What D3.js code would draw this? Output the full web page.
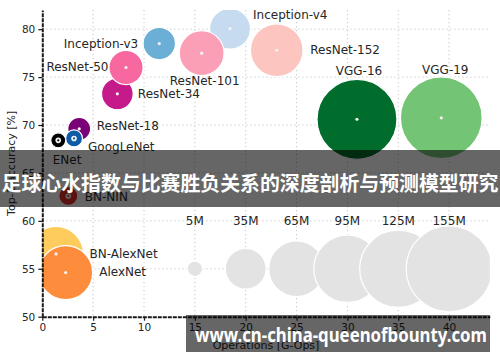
<!DOCTYPE html>
<html><head><meta charset="utf-8">
<script src="https://cdn.jsdelivr.net/npm/d3@7"></script>
<style>body{margin:0;background:#fff}</style>
</head><body>
<svg id="c" width="500" height="362"></svg>
<script>
// ---- data ----
const networks   = ["Inception-v4","ResNet-152","ResNet-101","Inception-v3","ResNet-34","ResNet-50","ResNet-18","GoogLeNet","ENet","BN-NIN","BN-AlexNet","AlexNet","VGG-16","VGG-19"];
const operations = [18.46, 23.05, 15.67, 11.5, 7.38, 8.23, 3.63, 3.12, 1.57, 2.56, 1.35, 2.3, 30.94, 39.23];
const accuracy   = [80.05, 77.8, 77.5, 78.5, 73.25, 76.0, 69.6, 68.6, 68.4, 62.6, 56.55, 54.6, 70.6, 70.75];
const parameters = [35, 58, 42, 22, 21, 24.5, 11, 6, 4.7, 7.6, 63, 61, 134, 140];
const netColors  = ["#c6dbef","#fcc5c0","#fa9fb5","#6baed6","#c51b8a","#f768a1","#7a0177","#0d5aa7","#000000","#de2d26","#fecc5c","#fd8d3c","#006d2c","#74c476"];
const refParams  = [5, 35, 65, 95, 125, 155];
const refLabels  = ["5M","35M","65M","95M","125M","155M"];
const refOps     = [15, 20, 25, 30, 35, 40];
const refAccuracy = 55, refLabelAccuracy = 60;
const xTicks = [0,5,10,15,20,25,30,35,40];
const yTicks = [50,55,60,65,70,75,80];
const xTitle = "Operations [G-Ops]";
const yTitle = "Top-1 accuracy [%]";
const bannerText = "足球心水指数与比赛胜负关系的深度剖析与预测模型研究";
const watermark = "www.cn-china-queenofbounty.com";

// ---- layout (label placement relative to bubble centre, px) ----
const labelLayout = {
  "Inception-v4": {dx: 23, dy: -13.5, a: "start"},
  "Inception-v3": {dx: -21, dy: 0, a: "end"},
  "ResNet-50":    {dx: -17.5, dy: -0.5, a: "end"},
  "ResNet-101":   {dx: 3, dy: 27.5, a: "middle"},
  "ResNet-34":    {dx: 20.5, dy: -0.5, a: "start"},
  "ResNet-18":    {dx: 17.5, dy: -3.5, a: "start"},
  "GoogLeNet":    {dx: 14, dy: 8, a: "start"},
  "ENet":         {dx: -5.5, dy: 19.5, a: "start"},
  "BN-NIN":       {dx: 16.5, dy: 1, a: "start"},
  "ResNet-152":   {dx: 33.5, dy: 0, a: "start"},
  "VGG-16":       {dx: 2, dy: -48.5, a: "middle"},
  "VGG-19":       {dx: 4, dy: -48.5, a: "middle"},
  "BN-AlexNet":   {dx: 33.5, dy: -0.5, a: "start"},
  "AlexNet":      {dx: 33.5, dy: -0.5, a: "start"}
};

const svg = d3.select("#c");
const L = 42.3, R = 489.8, T = 10, B = 316.7;
const x = d3.scaleLinear().domain([0, 44]).range([L, R]);
const y = d3.scaleLinear().domain([50, 82]).range([B, T]);
const r = d3.scaleSqrt().domain([0, 155]).range([0, 43]);
const font = "'DejaVu Sans', Verdana, sans-serif";
const txt = "#262626";

svg.append("defs").append("clipPath").attr("id","plot")
  .append("rect").attr("x", L).attr("y", T).attr("width", R - L).attr("height", B - T);

// grid
const grid = svg.append("g").attr("stroke", "#c4c4c4").attr("stroke-width", 1).attr("stroke-dasharray", "1.2,2.8");
grid.selectAll(".gx").data(xTicks.filter(d => d > 0)).join("line")
  .attr("x1", d => x(d)).attr("x2", d => x(d)).attr("y1", T).attr("y2", B);
grid.selectAll(".gy").data(yTicks.filter(d => d > 50)).join("line")
  .attr("x1", L).attr("x2", R).attr("y1", d => y(d)).attr("y2", d => y(d));

const plot = svg.append("g").attr("clip-path", "url(#plot)");

// reference size bubbles
plot.selectAll(".ref").data(refParams).join("circle")
  .attr("cx", (d,i) => x(refOps[i])).attr("cy", y(refAccuracy)).attr("r", d => r(d))
  .attr("fill", "#e3e3e3").attr("stroke", "#fff").attr("stroke-width", 1.2);
svg.selectAll(".refl").data(refLabels).join("text")
  .attr("x", (d,i) => x(refOps[i])).attr("y", y(refLabelAccuracy)).attr("dy", "0.35em")
  .attr("text-anchor", "middle").attr("font-family", font).attr("font-size", 12).attr("fill", txt)
  .text(d => d);

// network bubbles
const idx = d3.range(networks.length);
plot.selectAll(".net").data(idx).join("circle")
  .attr("cx", i => x(operations[i])).attr("cy", i => y(accuracy[i])).attr("r", i => r(parameters[i]))
  .attr("fill", i => netColors[i]).attr("stroke", "#fff").attr("stroke-width", 1.2);
plot.selectAll(".dot").data(idx).join("circle")
  .attr("cx", i => x(operations[i])).attr("cy", i => y(accuracy[i]))
  .attr("r", i => r(parameters[i]) < 10 ? 2.8 : 1.6).attr("fill", "#f2f2f2");
plot.selectAll(".dot2").data(idx.filter(i => r(parameters[i]) < 10)).join("circle")
  .attr("cx", i => x(operations[i])).attr("cy", i => y(accuracy[i])).attr("r", 1.1)
  .attr("fill", i => netColors[i]);

svg.selectAll(".nl").data(idx).join("text")
  .attr("x", i => x(operations[i]) + labelLayout[networks[i]].dx)
  .attr("y", i => y(accuracy[i]) + labelLayout[networks[i]].dy).attr("dy", "0.35em")
  .attr("text-anchor", i => labelLayout[networks[i]].a)
  .attr("font-family", font).attr("font-size", 12).attr("fill", txt)
  .text(i => networks[i]);

// axes
const ax = svg.append("g").attr("transform", `translate(0,${B})`)
  .call(d3.axisBottom(x).tickValues(xTicks).tickSize(4).tickSizeOuter(0).tickPadding(3));
const ay = svg.append("g").attr("transform", `translate(${L},0)`)
  .call(d3.axisLeft(y).tickValues(yTicks).tickSize(4).tickSizeOuter(0).tickPadding(3));
[ax, ay].forEach(g => {
  g.select(".domain").attr("stroke", "#1a1a1a").attr("stroke-width", 2).attr("stroke-dasharray", "4,1");
  g.selectAll(".tick line").attr("stroke", "#1a1a1a").attr("stroke-width", 1.2);
  g.selectAll(".tick text").attr("font-family", font).attr("font-size", 10.5).attr("fill", txt);
});
svg.append("text").attr("x", (L + R) / 2).attr("y", 349).attr("text-anchor", "middle")
  .attr("font-family", font).attr("font-size", 11).attr("fill", txt).text(xTitle);
svg.append("text").attr("transform", `translate(11,${(T + B) / 2}) rotate(-90)`).attr("dy", "0.35em")
  .attr("text-anchor", "middle").attr("font-family", font).attr("font-size", 11).attr("fill", txt).text(yTitle);

// overlay banner
svg.append("rect").attr("x", 0).attr("y", 150).attr("width", 500).attr("height", 57).attr("fill", "rgba(0,0,0,0.6)");
svg.append("text").attr("x", 1.5).attr("y", 182.5).attr("dominant-baseline", "central")
  .attr("font-family", "'Noto Sans CJK SC', sans-serif").attr("font-weight", "bold").attr("font-size", 20)
  .attr("textLength", 497).attr("lengthAdjust", "spacingAndGlyphs")
  .attr("fill", "#fff").text(bannerText);

// watermark
svg.append("rect").attr("x", 186).attr("y", 315).attr("width", 304).attr("height", 37).attr("fill", "rgba(0,0,0,0.6)");
svg.append("text").attr("x", 195).attr("y", 342)
  .attr("font-family", "'Noto Sans', 'Open Sans', sans-serif").attr("font-weight", "bold").attr("font-size", 19)
  .attr("textLength", 292).attr("lengthAdjust", "spacingAndGlyphs")
  .attr("fill", "#fff").text(watermark);
</script>
</body></html>
